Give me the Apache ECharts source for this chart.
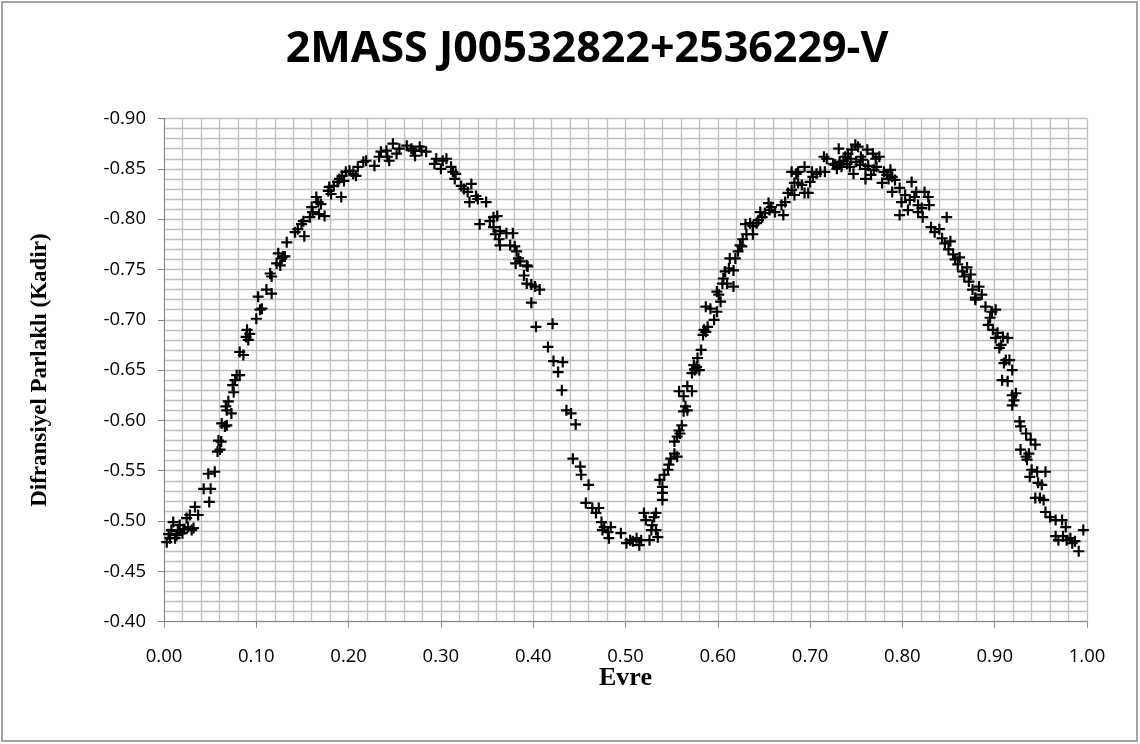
<!DOCTYPE html>
<html>
<head>
<meta charset="utf-8">
<script src="https://cdn.jsdelivr.net/npm/echarts@6/dist/echarts.min.js"></script>
<style>html,body{margin:0;padding:0;background:#fff}#c{width:1140px;height:744px}</style>
</head>
<body>
<div id="c"></div>
<script>
const titleText = '2MASS J00532822+2536229-V';
const xName = 'Evre';
const yName = 'Difransiyel Parlaklı (Kadir)';

// [phase, differential magnitude]
const rise1 = [
[0.003,-0.479],[0.005,-0.487],[0.0065,-0.483],[0.008,-0.491],[0.010,-0.499],[0.012,-0.483],[0.0137,-0.486],
[0.015,-0.490],[0.017,-0.496],[0.020,-0.488],[0.022,-0.492],[0.0245,-0.503],[0.026,-0.494],[0.028,-0.506],
[0.030,-0.491],[0.032,-0.493],[0.0336,-0.514],[0.037,-0.506],
[0.043,-0.532],[0.048,-0.547],[0.049,-0.519],[0.0505,-0.532],[0.055,-0.549],
[0.058,-0.569],[0.059,-0.580],[0.0607,-0.571],[0.062,-0.579],[0.0625,-0.597],[0.066,-0.594],[0.067,-0.614],
[0.068,-0.595],[0.068,-0.610],[0.0697,-0.619],[0.073,-0.607],
[0.0744,-0.635],[0.0755,-0.628],[0.077,-0.640],[0.0787,-0.645],[0.082,-0.645],[0.082,-0.668],[0.086,-0.665],
[0.089,-0.683],[0.090,-0.690],[0.0913,-0.680],[0.093,-0.686],
[0.100,-0.701],[0.102,-0.723],[0.104,-0.710],[0.106,-0.711],[0.111,-0.730],[0.115,-0.746],[0.1166,-0.743],[0.1166,-0.726],
[0.122,-0.756],[0.1238,-0.766],[0.126,-0.754],[0.1275,-0.761],[0.129,-0.763],[0.131,-0.763],[0.133,-0.777]
];
const peak1 = [
[0.142,-0.787],[0.145,-0.790],[0.152,-0.783],[0.149,-0.795],[0.151,-0.798],[0.158,-0.802],[0.161,-0.807],
[0.160,-0.812],[0.167,-0.817],[0.170,-0.815],[0.165,-0.822],[0.174,-0.803],[0.168,-0.805],[0.178,-0.828],
[0.181,-0.825],[0.179,-0.832],[0.192,-0.822],[0.184,-0.833],[0.188,-0.837],[0.190,-0.840],[0.193,-0.843],
[0.197,-0.847],[0.195,-0.838],[0.201,-0.848],[0.205,-0.845],[0.208,-0.843],[0.210,-0.852],[0.216,-0.857],
[0.219,-0.858],[0.228,-0.853],[0.233,-0.862],[0.235,-0.867],[0.241,-0.868],[0.248,-0.875],[0.244,-0.858],
[0.242,-0.862],[0.252,-0.865],[0.255,-0.870],[0.263,-0.873],[0.268,-0.870],[0.272,-0.863],[0.270,-0.868],
[0.277,-0.872],[0.279,-0.868],[0.284,-0.867],[0.295,-0.860],[0.293,-0.855],[0.302,-0.858],[0.300,-0.850],
[0.306,-0.860],[0.311,-0.852],[0.313,-0.847],[0.316,-0.845],[0.315,-0.840],[0.322,-0.833],[0.325,-0.830],
[0.333,-0.835],[0.329,-0.827],[0.338,-0.823],[0.340,-0.820],[0.331,-0.817],[0.349,-0.817],[0.342,-0.795],
[0.353,-0.798],[0.357,-0.802],[0.361,-0.803],[0.357,-0.792],[0.359,-0.785],[0.363,-0.780]
];
const fall1 = [
[0.364,-0.788],[0.371,-0.786],[0.378,-0.786],[0.364,-0.774],[0.375,-0.774],[0.380,-0.773],[0.382,-0.768],
[0.384,-0.761],[0.381,-0.756],[0.386,-0.758],[0.393,-0.754],[0.394,-0.753],[0.390,-0.744],[0.393,-0.736],
[0.398,-0.735],[0.402,-0.733],[0.407,-0.730],[0.398,-0.717],[0.403,-0.693],[0.421,-0.696],[0.416,-0.673],
[0.422,-0.659],[0.432,-0.658],[0.427,-0.648],[0.431,-0.630],[0.436,-0.610],[0.441,-0.607],[0.446,-0.596],
[0.443,-0.562],[0.451,-0.554],[0.452,-0.546],[0.460,-0.536],[0.457,-0.518],[0.464,-0.513],[0.468,-0.508]
];
const minimum2 = [
[0.471,-0.513],[0.474,-0.499],[0.477,-0.494],[0.484,-0.494],[0.475,-0.491],[0.481,-0.489],[0.482,-0.483],
[0.495,-0.488],[0.501,-0.478],[0.505,-0.481],[0.508,-0.480],[0.512,-0.483],[0.515,-0.476],[0.517,-0.481],
[0.520,-0.508],[0.522,-0.501],[0.526,-0.481],[0.528,-0.491],[0.531,-0.504],[0.533,-0.508],[0.529,-0.496],
[0.535,-0.484],[0.533,-0.491]
];
const rise2 = [
[0.537,-0.541],[0.540,-0.534],[0.540,-0.528],[0.540,-0.521],[0.542,-0.546],[0.546,-0.551],[0.547,-0.556],
[0.549,-0.562],[0.553,-0.567],[0.556,-0.564],[0.553,-0.579],[0.556,-0.584],[0.558,-0.590],[0.561,-0.595],
[0.559,-0.587],[0.563,-0.609],[0.567,-0.610],[0.565,-0.614],[0.558,-0.629],[0.563,-0.624],[0.567,-0.634],
[0.572,-0.629],[0.572,-0.647],[0.575,-0.651],[0.574,-0.655],
[0.575,-0.650],[0.580,-0.650],[0.577,-0.653],[0.578,-0.662],[0.582,-0.670],[0.584,-0.685],[0.587,-0.688],
[0.585,-0.690],[0.589,-0.693],[0.596,-0.700],[0.599,-0.708],[0.587,-0.713],[0.592,-0.711],[0.603,-0.718],
[0.601,-0.725],[0.599,-0.728],[0.605,-0.736],[0.606,-0.741],[0.610,-0.736],[0.617,-0.733],[0.608,-0.748],
[0.612,-0.751],[0.617,-0.749],[0.613,-0.761],[0.619,-0.761],[0.622,-0.768],[0.626,-0.773],[0.624,-0.774],
[0.627,-0.780],[0.631,-0.785],[0.638,-0.785],[0.630,-0.795],[0.635,-0.796],[0.638,-0.793],[0.642,-0.796],
[0.644,-0.799],[0.648,-0.802],[0.646,-0.807],[0.651,-0.806],[0.656,-0.809],[0.655,-0.816],[0.658,-0.812],
[0.662,-0.807],[0.671,-0.804],[0.669,-0.814],[0.673,-0.817],[0.676,-0.826],[0.680,-0.829],[0.683,-0.824],
[0.694,-0.826],[0.687,-0.836],[0.691,-0.834],[0.683,-0.836],[0.700,-0.837],[0.680,-0.847],[0.687,-0.847],
[0.694,-0.852],[0.702,-0.847],[0.711,-0.847],[0.715,-0.862],[0.716,-0.847],[0.685,-0.845],[0.707,-0.845],
[0.703,-0.842],[0.698,-0.826]
];
const peak2 = [
[0.718,-0.860],[0.731,-0.870],[0.725,-0.855],[0.729,-0.850],[0.727,-0.854],[0.732,-0.857],[0.734,-0.852],
[0.738,-0.862],[0.741,-0.865],[0.745,-0.869],[0.749,-0.874],[0.752,-0.872],[0.747,-0.845],[0.743,-0.852],
[0.750,-0.857],[0.754,-0.854],[0.757,-0.859],[0.762,-0.869],[0.768,-0.865],[0.771,-0.860],[0.775,-0.862],
[0.760,-0.850],[0.760,-0.840],[0.766,-0.844],[0.769,-0.849],[0.778,-0.836],[0.780,-0.847],[0.783,-0.844],
[0.787,-0.849],[0.789,-0.842],[0.792,-0.839],[0.789,-0.827],[0.797,-0.831],[0.803,-0.824],[0.799,-0.817],
[0.808,-0.819],[0.810,-0.837],[0.813,-0.822],[0.817,-0.814],[0.821,-0.811],[0.815,-0.827],[0.824,-0.827],
[0.828,-0.822],[0.797,-0.804],[0.806,-0.809],[0.817,-0.807],[0.822,-0.802],[0.829,-0.814],[0.831,-0.792],
[0.835,-0.787],[0.736,-0.858],[0.740,-0.855],[0.744,-0.860],[0.755,-0.862],[0.763,-0.853],[0.772,-0.852],
[0.785,-0.840]
];
const fall2 = [
[0.840,-0.790],[0.843,-0.781],[0.848,-0.802],[0.846,-0.776],[0.850,-0.770],[0.852,-0.778],[0.855,-0.765],
[0.857,-0.760],[0.860,-0.755],[0.862,-0.762],[0.865,-0.748],[0.867,-0.743],[0.870,-0.752],[0.872,-0.738],
[0.874,-0.745],[0.876,-0.730],[0.879,-0.722],[0.883,-0.733],[0.886,-0.725],
[0.879,-0.720],[0.890,-0.713],[0.897,-0.708],[0.901,-0.710],[0.895,-0.702],[0.893,-0.695],[0.898,-0.690],
[0.903,-0.687],[0.909,-0.683],[0.914,-0.682],[0.901,-0.682],[0.907,-0.675],[0.905,-0.672],[0.912,-0.660],
[0.916,-0.660],[0.910,-0.657],[0.919,-0.650],[0.908,-0.640],[0.914,-0.639],[0.919,-0.625],[0.923,-0.627],
[0.921,-0.620],[0.919,-0.615],[0.927,-0.599],[0.928,-0.594],[0.934,-0.587],[0.939,-0.581],[0.944,-0.576],
[0.928,-0.571],[0.937,-0.567],[0.934,-0.564],[0.935,-0.561],[0.940,-0.551],[0.946,-0.549],[0.955,-0.549],
[0.938,-0.544],[0.947,-0.538],[0.951,-0.536],[0.944,-0.523],[0.949,-0.523],[0.953,-0.521],[0.955,-0.509],
[0.960,-0.504],[0.966,-0.501],[0.973,-0.501],[0.977,-0.494],[0.966,-0.485],[0.969,-0.481],[0.974,-0.485],
[0.978,-0.481],[0.982,-0.483],[0.984,-0.478],[0.987,-0.480],[0.991,-0.470],[0.996,-0.491]
];

const allPoints = [].concat(rise1, peak1, fall1, minimum2, rise2, peak2, fall2);

const gridColor = '#bfbfbf';
const axisColor = '#868686';
const plus = 'path://M4,0h2v4h4v2h-4v4h-2v-4h-4v-2h4z';

const chart = echarts.init(document.getElementById('c'), null, {renderer: 'canvas'});
chart.setOption({
  animation: false,
  backgroundColor: '#fff',
  title: {
    text: titleText,
    left: 582, top: 23, textAlign: 'center',
    textStyle: {fontFamily: 'Open Sans', fontWeight: 'bold', fontSize: 43, color: '#000'}
  },
  graphic: [{
    type: 'rect', silent: true,
    shape: {x: 2, y: 2, width: 1135, height: 739},
    style: {fill: 'none', stroke: axisColor, lineWidth: 1.5}
  }],
  grid: {left: 164, right: 53, top: 118.5, bottom: 122.3, containLabel: false},
  xAxis: {
    type: 'value', min: 0, max: 1, interval: 0.1,
    name: xName, nameLocation: 'middle', nameGap: 44, nameMoveOverlap: false,
    nameTextStyle: {fontFamily: 'Liberation Serif', fontWeight: 'bold', fontSize: 26, color: '#000'},
    axisLine: {onZero: false, lineStyle: {color: axisColor, width: 1}},
    axisTick: {show: true, length: 6, lineStyle: {color: axisColor}},
    axisLabel: {margin: 26, fontFamily: 'Open Sans', fontSize: 18.5, color: '#000', formatter: v => v.toFixed(2)},
    splitLine: {show: true, lineStyle: {color: gridColor, width: 1.3}},
    minorTick: {show: false, splitNumber: 5},
    minorSplitLine: {show: true, lineStyle: {color: gridColor, width: 1.3}}
  },
  yAxis: {
    type: 'value', min: -0.9, max: -0.4, interval: 0.05, inverse: true,
    name: yName, nameLocation: 'middle', nameGap: 112, nameRotate: 90, nameMoveOverlap: false,
    nameTextStyle: {fontFamily: 'Liberation Serif', fontWeight: 'bold', fontSize: 23, color: '#000'},
    axisLine: {show: true, lineStyle: {color: axisColor, width: 1}},
    axisTick: {show: true, length: 6, lineStyle: {color: axisColor}},
    axisLabel: {margin: 18, fontFamily: 'Open Sans', fontSize: 18.5, color: '#000', formatter: v => v.toFixed(2)},
    splitLine: {show: true, lineStyle: {color: gridColor, width: 1.3}},
    minorTick: {show: false, splitNumber: 5},
    minorSplitLine: {show: true, lineStyle: {color: gridColor, width: 1.3}}
  },
  series: [{
    type: 'scatter',
    data: allPoints,
    symbol: plus,
    symbolSize: 11,
    itemStyle: {color: '#000', opacity: 1},
    emphasis: {disabled: true}
  }]
});
</script>
</body>
</html>
